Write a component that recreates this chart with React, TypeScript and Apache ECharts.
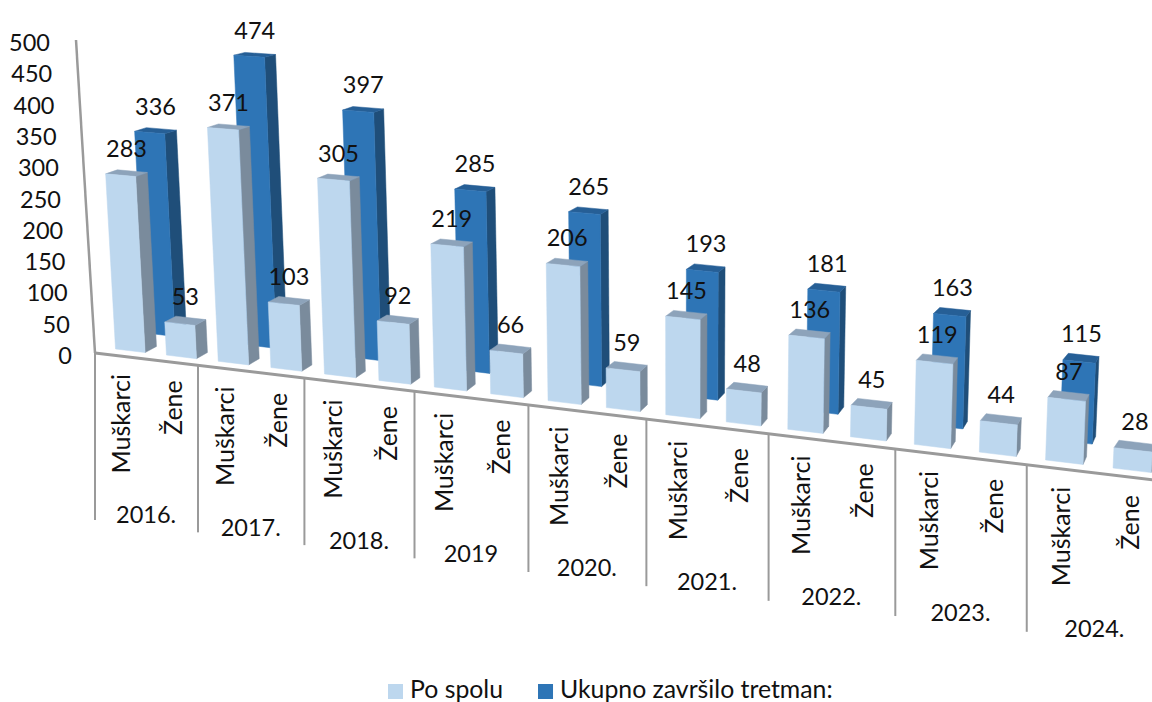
import React, { useEffect, useRef } from "react";
import * as echarts from "echarts";

const years = ["2016.", "2017.", "2018.", "2019", "2020.", "2021.", "2022.", "2023.", "2024."];
const sexes = ["Muškarci", "Žene"];
const yTicks = [0, 50, 100, 150, 200, 250, 300, 350, 400, 450, 500];
const muskarci = [283, 371, 305, 219, 206, 145, 136, 119, 87];
const zene = [53, 103, 92, 66, 59, 48, 45, 44, 28];
const ukupno = [336, 474, 397, 285, 265, 193, 181, 163, 115];

const FONT = "Lato";
const FS = 23.5;
const FS_CAT = 25;
const GRAY = "#9a9a9a";

// Perspective of the floor plane, applied on top of the linear axis scales
function proj(api: any, params: any, u: number, off: number, d: number, v: number) {
  const cs = params.coordSys;
  const p0 = api.coord([u, 0]);
  const pv = api.coord([u, v]);
  const un = ((p0[0] - cs.x) / cs.width) * 9;
  const mapX = (q: number) => 95 + (101.3 * q) / (1 - 0.01628 * q);
  const x0 = mapX(un);
  const rel = (x0 - 114) / 932;
  const x = mapX(un + off * (1 - 0.13 * rel * d));
  const yFloor = 353 + (x - 95) * 0.12;
  const dx = 30 - 18 * rel;
  const dy = -16 - 4 * rel;
  const bx = x + d * dx;
  const by = yFloor + d * dy;
  const h = (p0[1] - pv[1]) * (1 + (x - 115) * 0.000175) * (1 - 0.03 * d);
  return [bx + h * (bx - 680) * 0.0001, by - h];
}

function barRenderer(d0: number, front: string, side: string, top: string) {
  return (params: any, api: any) => {
    const u = api.value(0);
    const v = api.value(1);
    const w = 0.145;
    const d1 = d0 + 0.38;
    const p = (off: number, d: number, val: number) => proj(api, params, u, off, d, val);
    const poly = (points: number[][], fill: string) => ({
      type: "polygon",
      shape: { points },
      style: { fill, stroke: fill, lineWidth: 0.5 },
    });
    const lab = p(0, (d0 + d1) / 2, v);
    return {
      type: "group",
      children: [
        poly([p(w, d0, 0), p(w, d1, 0), p(w, d1, v), p(w, d0, v)], side),
        poly([p(-w, d0, v), p(w, d0, v), p(w, d1, v), p(-w, d1, v)], top),
        poly([p(-w, d0, 0), p(w, d0, 0), p(w, d0, v), p(-w, d0, v)], front),
        {
          type: "text",
          x: lab[0],
          y: lab[1] - 25,
          style: {
            text: String(v),
            fontFamily: FONT,
            fontSize: FS,
            fill: "#111",
            align: "center",
            verticalAlign: "middle",
          },
        },
      ],
    };
  };
}

function frameRenderer(params: any, api: any) {
  const line = (a: number[], b: number[], lw: number) => ({
    type: "line",
    shape: { x1: a[0], y1: a[1], x2: b[0], y2: b[1] },
    style: { stroke: GRAY, lineWidth: lw },
  });
  const children: any[] = [];
  children.push(line(proj(api, params, 0, 0, 0, 0), proj(api, params, 9, 0, 0, 0), 3));
  const topAxis = api.coord([0, 500]);
  const zero = api.coord([0, 0]);
  children.push(line([95, zero[1] - 2], [76, topAxis[1] - 2], 2.5));
  yTicks.forEach((t) => {
    const y = api.coord([0, t])[1];
    children.push({
      type: "text",
      x: 50 + (y - 42) * 0.0703,
      y,
      style: { text: String(t), fontFamily: FONT, fontSize: FS, fill: "#111", align: "right", verticalAlign: "middle" },
    });
  });
  for (let i = 0; i < years.length; i++) {
    const a = proj(api, params, i, 0, 0, 0);
    children.push(line(a, [a[0], a[1] + 167], 2));
    const mid = proj(api, params, i + 0.5, 0, 0, 0);
    children.push({
      type: "text",
      x: mid[0],
      y: mid[1] + 155,
      style: { text: years[i], fontFamily: FONT, fontSize: FS, fill: "#111", align: "center", verticalAlign: "middle" },
    });
    sexes.forEach((s, k) => {
      const q = proj(api, params, i + 0.25 + k * 0.5, 0, 0, 0);
      children.push({
        type: "text",
        x: q[0],
        y: q[1] + 18,
        rotation: Math.PI / 2,
        style: { text: s, fontFamily: FONT, fontSize: FS_CAT, fill: "#111", align: "right", verticalAlign: "middle" },
      });
    });
  }
  return { type: "group", children };
}

export default function App() {
  const ref = useRef<HTMLDivElement>(null);
  useEffect(() => {
    const chart = echarts.init(ref.current!, undefined, { renderer: "svg" });
    const front = years.flatMap((_, i) => [
      [i + 0.25, muskarci[i]],
      [i + 0.75, zene[i]],
    ]);
    const back = years.map((_, i) => [i + 0.25, ukupno[i]]);
    chart.setOption({
      animation: false,
      backgroundColor: "#fff",
      grid: { left: 95, top: 42, width: 1053, height: 313 },
      xAxis: { type: "value", min: 0, max: 9, show: false },
      yAxis: { type: "value", min: 0, max: 500, interval: 50, show: false },
      legend: {
        left: 388,
        top: 676,
        padding: 0,
        icon: "path://M0,0L15,0L15,0L0,0ZM0,6L15,6L15,21L0,21Z",
        itemWidth: 15,
        itemHeight: 21,
        itemGap: 35,
        data: ["Po spolu", "Ukupno završilo tretman:"],
        textStyle: { fontFamily: FONT, fontSize: 24.8, lineHeight: 24, padding: [0, 0, 0, 2], color: "#111" },
      },
      series: [
        {
          type: "custom",
          name: "Okvir",
          silent: true,
          data: [[0, 0]],
          encode: { x: 0, y: 1 },
          renderItem: frameRenderer,
        },
        {
          type: "custom",
          name: "Ukupno završilo tretman:",
          itemStyle: { color: "#2E75B6" },
          data: back,
          encode: { x: 0, y: 1 },
          renderItem: barRenderer(1.33, "#2E75B6", "#1F4E79", "#265F96"),
        },
        {
          type: "custom",
          name: "Po spolu",
          itemStyle: { color: "#BDD7EE" },
          data: front,
          encode: { x: 0, y: 1 },
          renderItem: barRenderer(0.33, "#BDD7EE", "#7A8B9C", "#8DA3BA"),
        },
      ],
    });
    return () => chart.dispose();
  }, []);
  return <div ref={ref} style={{ position: "absolute", left: 0, top: 0, width: 1152, height: 702 }} />;
}
